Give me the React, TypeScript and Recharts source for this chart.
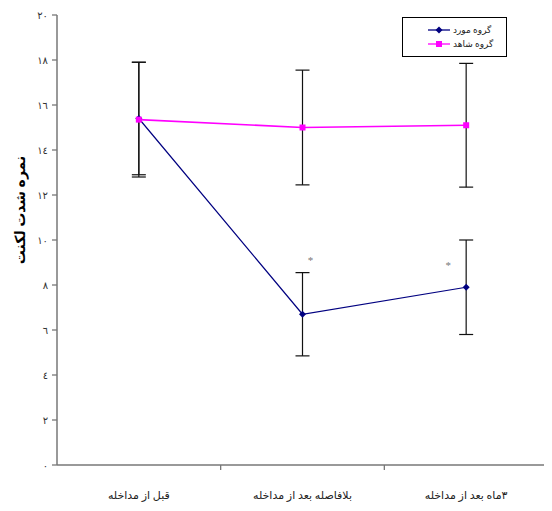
import React from "react";
import { LineChart, Line, XAxis, YAxis, ErrorBar, Legend, ReferenceDot } from "recharts";

// values
const categories = ["قبل از مداخله", "بلافاصله بعد از مداخله", "٣ماه بعد از مداخله"];
const caseMean = [15.4, 6.7, 7.9];
const caseSd = [2.5, 1.85, 2.1];
const controlMean = [15.35, 15.0, 15.1];
const controlSd = [2.55, 2.55, 2.75];
const yTicks = [0, 2, 4, 6, 8, 10, 12, 14, 16, 18, 20];
const yTickLabels = ["٠", "٢", "٤", "٦", "٨", "١٠", "١٢", "١٤", "١٦", "١٨", "٢٠"];
const sigCategories = [categories[1], categories[2]];
const sigValues = [9.1, 8.9];

const data = categories.map((name, i) => ({
  name,
  caseMean: caseMean[i],
  caseSd: caseSd[i],
  controlMean: controlMean[i],
  controlSd: controlSd[i],
}));

const FONT = "'Liberation Serif', 'DejaVu Sans', serif";
const CASE_COLOR = "#000080";
const CONTROL_COLOR = "#FF00FF";
const sigOffsets = [8, -18];
const legendOrder = ["caseMean", "controlMean"];

const Diamond = (props: any) => {
  const { cx, cy, index } = props;
  if (cx == null || cy == null) return <g key={index} />;
  const s = 3.5;
  return (
    <path
      key={index}
      d={`M${cx},${cy - s}L${cx + s},${cy}L${cx},${cy + s}L${cx - s},${cy}Z`}
      fill={CASE_COLOR}
    />
  );
};

const Square = (props: any) => {
  const { cx, cy, index } = props;
  if (cx == null || cy == null) return <g key={index} />;
  return <rect key={index} x={cx - 3} y={cy - 3} width={6} height={6} fill={CONTROL_COLOR} />;
};

const XTick = (props: any) => {
  const { x, y, payload, index, width } = props;
  const half = payload?.offset ?? width / categories.length / 2;
  return (
    <g>
      {index < categories.length - 1 && (
        <line x1={x + half} x2={x + half} y1={y} y2={y + 5} stroke="#777" strokeWidth={1.3} />
      )}
      <text
        x={x}
        y={y + 30}
        textAnchor="middle"
        dominantBaseline="central"
        fontSize={11}
        fill="#222"
        fontFamily={FONT}
      >
        {payload.value}
      </text>
    </g>
  );
};

const renderLegend = (props: any) => {
  const payload = [...(props.payload || [])].sort(
    (a: any, b: any) => legendOrder.indexOf(a.dataKey) - legendOrder.indexOf(b.dataKey)
  );
  return (
    <div
      style={{
        border: "1px solid #000",
        background: "#fff",
        width: 105,
        height: 40,
        boxSizing: "border-box",
        paddingTop: 5,
        fontFamily: FONT,
      }}
    >
      {payload.map((entry: any) => {
        const isCase = entry.dataKey === "caseMean";
        return (
          <div
            key={entry.value}
            style={{ display: "flex", alignItems: "center", height: 14, paddingLeft: 25 }}
          >
            <svg width={22} height={8}>
              <line x1={0} x2={22} y1={4} y2={4} stroke={entry.color} strokeWidth={1.3} />
              {isCase ? (
                <path d="M11,0.5L14.5,4L11,7.5L7.5,4Z" fill={entry.color} />
              ) : (
                <rect x={8} y={1} width={6} height={6} fill={entry.color} />
              )}
            </svg>
            <span style={{ fontSize: 9, color: "#222", marginLeft: 3, direction: "rtl" }}>
              {entry.value}
            </span>
          </div>
        );
      })}
    </div>
  );
};

const YTitle = (props: any) => {
  const vb = props.viewBox || { x: 19, y: 7, width: 30, height: 450 };
  const cx = vb.x - 7;
  const cy = vb.y + vb.height / 2 - 30;
  return (
    <text
      x={cx}
      y={cy}
      transform={`rotate(-90 ${cx} ${cy})`}
      textAnchor="middle"
      dominantBaseline="central"
      fontSize={14}
      fontWeight="bold"
      fill="#000"
      fontFamily={FONT}
    >
      نمره شدت لکنت
    </text>
  );
};

const Asterisk = (i: number) => (props: any) => {
  const { cx, cy } = props;
  return (
    <text
      x={cx + sigOffsets[i]}
      y={cy}
      textAnchor="middle"
      dominantBaseline="central"
      fontSize={11}
      fill="#777"
      fontFamily={FONT}
    >
      *
    </text>
  );
};

export default function App() {
  return (
    <LineChart
      width={544}
      height={503}
      data={data}
      margin={{ top: 7, right: 4, left: 19, bottom: 6 }}
      style={{ fontFamily: FONT }}
    >
      <XAxis
        dataKey="name"
        scale="band"
        height={40}
        tickLine={false}
        tickSize={0}
        tickMargin={0}
        axisLine={{ stroke: "#777", strokeWidth: 1.5 }}
        tick={<XTick />}
        interval={0}
      />
      <YAxis
        domain={[0, 20]}
        ticks={yTicks}
        width={30}
        tickSize={5}
        tickMargin={4}
        axisLine={{ stroke: "#777", strokeWidth: 1.5 }}
        tickLine={{ stroke: "#777", strokeWidth: 1.3 }}
        tick={{ fontSize: 10, fill: "#333", fontFamily: FONT }}
        tickFormatter={(v: number) => yTickLabels[yTicks.indexOf(v)] ?? String(v)}
        label={<YTitle />}
      />
      <Line
        dataKey="caseMean"
        name="گروه مورد"
        stroke={CASE_COLOR}
        strokeWidth={1.2}
        dot={Diamond}
        activeDot={false}
        isAnimationActive={false}
      >
        <ErrorBar dataKey="caseSd" direction="y" width={7} stroke="#111" strokeWidth={1.2} isAnimationActive={false} />
      </Line>
      <Line
        dataKey="controlMean"
        name="گروه شاهد"
        stroke={CONTROL_COLOR}
        strokeWidth={1.6}
        dot={Square}
        activeDot={false}
        isAnimationActive={false}
      >
        <ErrorBar dataKey="controlSd" direction="y" width={7} stroke="#111" strokeWidth={1.2} isAnimationActive={false} />
      </Line>
      {sigCategories.map((c, i) => (
        <ReferenceDot key={c} x={c} y={sigValues[i]} r={0} shape={Asterisk(i)} />
      ))}
      <Legend
        content={renderLegend}
        layout="horizontal"
        verticalAlign="middle"
        align="center"
        wrapperStyle={{ position: "absolute", left: 394, top: 9, width: 105 }}
      />
    </LineChart>
  );
}
